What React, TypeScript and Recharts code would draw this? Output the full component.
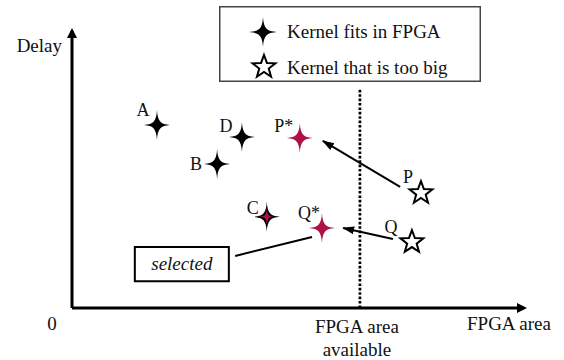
import React from 'react';
import {
  ScatterChart,
  Scatter,
  XAxis,
  YAxis,
  ReferenceLine,
  ReferenceArea,
  Legend,
  Label,
} from 'recharts';

const FONT = '"Liberation Serif", "Times New Roman", serif';
const RED = '#B0104A';
const INK = '#111';

// kernels, area (x) vs delay (y), 0..100 scale
const fitsKernels = [
  { name: 'A', area: 18.8, delay: 66.1 },
  { name: 'D', area: 37.6, delay: 61.7 },
  { name: 'B', area: 32.1, delay: 52.0 },
  { name: 'C', area: 43.1, delay: 32.9 },
];
const selectedKernels = [
  { name: 'P*', area: 50.4, delay: 61.4 },
  { name: 'Q*', area: 55.3, delay: 28.9 },
];
const bigKernels = [
  { name: 'P', area: 77.2, delay: 41.5 },
  { name: 'Q', area: 75.2, delay: 23.8 },
];
const overlapped = ['C'];

const areaAvailable = 63.7;
const availableTop = 79.4;

const moveFrom = [
  { x: 72.6, y: 43.7 },
  { x: 71.0, y: 24.9 },
];
const moveTo = [
  { x: 55.5, y: 60.3 },
  { x: 60.0, y: 28.9 },
];

const noteBoxX = [13.9, 34.7];
const noteBoxY = [9.7, 22.0];
const notePointer = [
  { x: 36.1, y: 18.8 },
  { x: 53.1, y: 25.6 },
];

// label placement around each marker (px)
const LABEL_OFFSET: Record<string, [number, number]> = {
  A: [-14, -15],
  D: [-16, -11],
  B: [-21, 0],
  C: [-14, -9],
  'P*': [-16, -12],
  'Q*': [-13, -15],
  P: [-13, -16],
  Q: [-21, -15],
};

// four point sparkle, concave sides
const crossPath = (cx: number, cy: number, w = 13, h = 15) => {
  const s = h / 15;
  const k1 = 0.7 * s;
  const k2 = 3.6 * s;
  return (
    `M${cx},${cy - h} ` +
    `C${cx + k1},${cy - k2} ${cx + k2},${cy - k1} ${cx + w},${cy} ` +
    `C${cx + k2},${cy + k1} ${cx + k1},${cy + k2} ${cx},${cy + h} ` +
    `C${cx - k1},${cy + k2} ${cx - k2},${cy + k1} ${cx - w},${cy} ` +
    `C${cx - k2},${cy - k1} ${cx - k1},${cy - k2} ${cx},${cy - h} Z`
  );
};

const starPath = (cx: number, cy: number, r = 12, ri = 5) => {
  const pts: string[] = [];
  for (let i = 0; i < 10; i++) {
    const rr = i % 2 === 0 ? r : ri;
    const ang = -Math.PI / 2 + (i * Math.PI) / 5;
    pts.push(`${(cx + rr * Math.cos(ang)).toFixed(2)},${(cy + rr * Math.sin(ang)).toFixed(2)}`);
  }
  return `M${pts.join(' L')} Z`;
};

const textStyle = { fontFamily: FONT, fontSize: 19, fill: INK };

const pointLabel = (name: string, cx: number, cy: number) => {
  const [dx, dy] = LABEL_OFFSET[name] || [-14, -14];
  return (
    <text x={cx + dx} y={cy + dy + 6} textAnchor="middle" {...textStyle} fontSize={18}>
      {name}
    </text>
  );
};

const renderKernel = (kind: 'fits' | 'selected' | 'big') => (props: any) => {
  const { cx, cy, payload } = props;
  return (
    <g>
      {kind === 'big' ? (
        <path d={starPath(cx, cy)} fill="#fff" stroke="#000" strokeWidth={2} strokeLinejoin="miter" />
      ) : (
        <path d={crossPath(cx, cy)} fill={kind === 'selected' ? RED : '#000'} />
      )}
      {kind === 'fits' && overlapped.includes(payload.name) && (
        <path d={crossPath(cx, cy, 7, 8)} fill={RED} />
      )}
      {pointLabel(payload.name, cx, cy)}
    </g>
  );
};

const arrowLine = (withHead: boolean) => (p: any) => (
  <line
    x1={p.x1}
    y1={p.y1}
    x2={p.x2}
    y2={p.y2}
    stroke="#000"
    strokeWidth={2}
    markerEnd={withHead ? 'url(#moveHead)' : undefined}
  />
);

const LegendBox = () => (
  <svg width={262} height={76} style={{ display: 'block' }}>
    <rect x={0.75} y={0.75} width={260.5} height={74.5} fill="#fff" stroke="#444" strokeWidth={1.5} />
    <path d={crossPath(44, 26, 14, 15)} fill="#000" />
    <text x={68} y={32} {...textStyle}>
      Kernel fits in FPGA
    </text>
    <path d={starPath(45, 61, 12, 5)} fill="#fff" stroke="#000" strokeWidth={2} />
    <text x={68} y={68} {...textStyle}>
      Kernel that is too big
    </text>
  </svg>
);

export default function App() {
  return (
    <div style={{ position: 'absolute', left: 0, top: 0, width: 564, height: 360, background: '#fff' }}>
      <svg width={0} height={0} style={{ position: 'absolute' }}>
        <defs>
          <marker
            id="axisHead"
            viewBox="0 0 10 10"
            markerWidth={10}
            markerHeight={10}
            refX={7}
            refY={5}
            orient="auto-start-reverse"
            markerUnits="userSpaceOnUse"
          >
            <path d="M0,0 L10,5 L0,10 Z" fill="#000" />
          </marker>
          <marker
            id="moveHead"
            viewBox="0 0 12 10"
            markerWidth={12}
            markerHeight={10}
            refX={11}
            refY={5}
            orient="auto"
            markerUnits="userSpaceOnUse"
          >
            <path d="M0,1 L12,5 L0,9 Z" fill="#000" />
          </marker>
        </defs>
      </svg>
      <ScatterChart width={564} height={360} margin={{ top: 31, right: 40, bottom: 51, left: 71 }}>
        <XAxis
          type="number"
          dataKey="area"
          domain={[0, 100]}
          height={1}
          tick={false}
          tickLine={false}
          axisLine={{ stroke: '#000', strokeWidth: 3, markerEnd: 'url(#axisHead)' }}
        >
          <Label
            content={({ viewBox }: any) => (
              <g>
                <text x={viewBox.x - 20} y={viewBox.y + 22} textAnchor="middle" {...textStyle}>
                  0
                </text>
                <text x={viewBox.x + 395} y={viewBox.y + 22} {...textStyle}>
                  FPGA area
                </text>
              </g>
            )}
          />
        </XAxis>
        <YAxis
          type="number"
          dataKey="delay"
          domain={[0, 100]}
          width={1}
          tick={false}
          tickLine={false}
          axisLine={{ stroke: '#000', strokeWidth: 3, markerStart: 'url(#axisHead)' }}
        >
          <Label
            content={({ viewBox }: any) => (
              <text x={viewBox.x + viewBox.width - 10} y={viewBox.y + 21} textAnchor="end" {...textStyle}>
                Delay
              </text>
            )}
          />
        </YAxis>
        <Legend
          layout="horizontal"
          verticalAlign="middle"
          align="center"
          wrapperStyle={{ left: 219, top: 6, width: 262, height: 76 }}
          content={() => <LegendBox />}
        />
        <ReferenceLine
          segment={[
            { x: areaAvailable, y: 0 },
            { x: areaAvailable, y: availableTop },
          ]}
          stroke="#000"
          strokeWidth={2.7}
          strokeDasharray="2.6 1.8"
        >
          <Label
            content={({ viewBox }: any) => (
              <text textAnchor="middle" {...textStyle}>
                <tspan x={viewBox.x - 3} y={viewBox.y + viewBox.height + 25}>
                  FPGA area
                </tspan>
                <tspan x={viewBox.x - 3} y={viewBox.y + viewBox.height + 48}>
                  available
                </tspan>
              </text>
            )}
          />
        </ReferenceLine>
        {moveFrom.map((f, i) => (
          <ReferenceLine key={`mv-${i}`} segment={[f, moveTo[i]]} shape={arrowLine(true)} />
        ))}
        <ReferenceLine segment={notePointer} shape={arrowLine(false)} />
        <ReferenceArea
          x1={noteBoxX[0]}
          x2={noteBoxX[1]}
          y1={noteBoxY[0]}
          y2={noteBoxY[1]}
          fill="#fff"
          fillOpacity={1}
          stroke="#000"
          strokeWidth={2}
        >
          <Label
            content={({ viewBox }: any) => (
              <text
                x={viewBox.x + viewBox.width / 2}
                y={viewBox.y + viewBox.height / 2 + 6}
                textAnchor="middle"
                {...textStyle}
                fontStyle="italic"
              >
                selected
              </text>
            )}
          />
        </ReferenceArea>
        <Scatter data={fitsKernels} shape={renderKernel('fits')} isAnimationActive={false} />
        <Scatter data={selectedKernels} shape={renderKernel('selected')} isAnimationActive={false} />
        <Scatter data={bigKernels} shape={renderKernel('big')} isAnimationActive={false} />
      </ScatterChart>
    </div>
  );
}
